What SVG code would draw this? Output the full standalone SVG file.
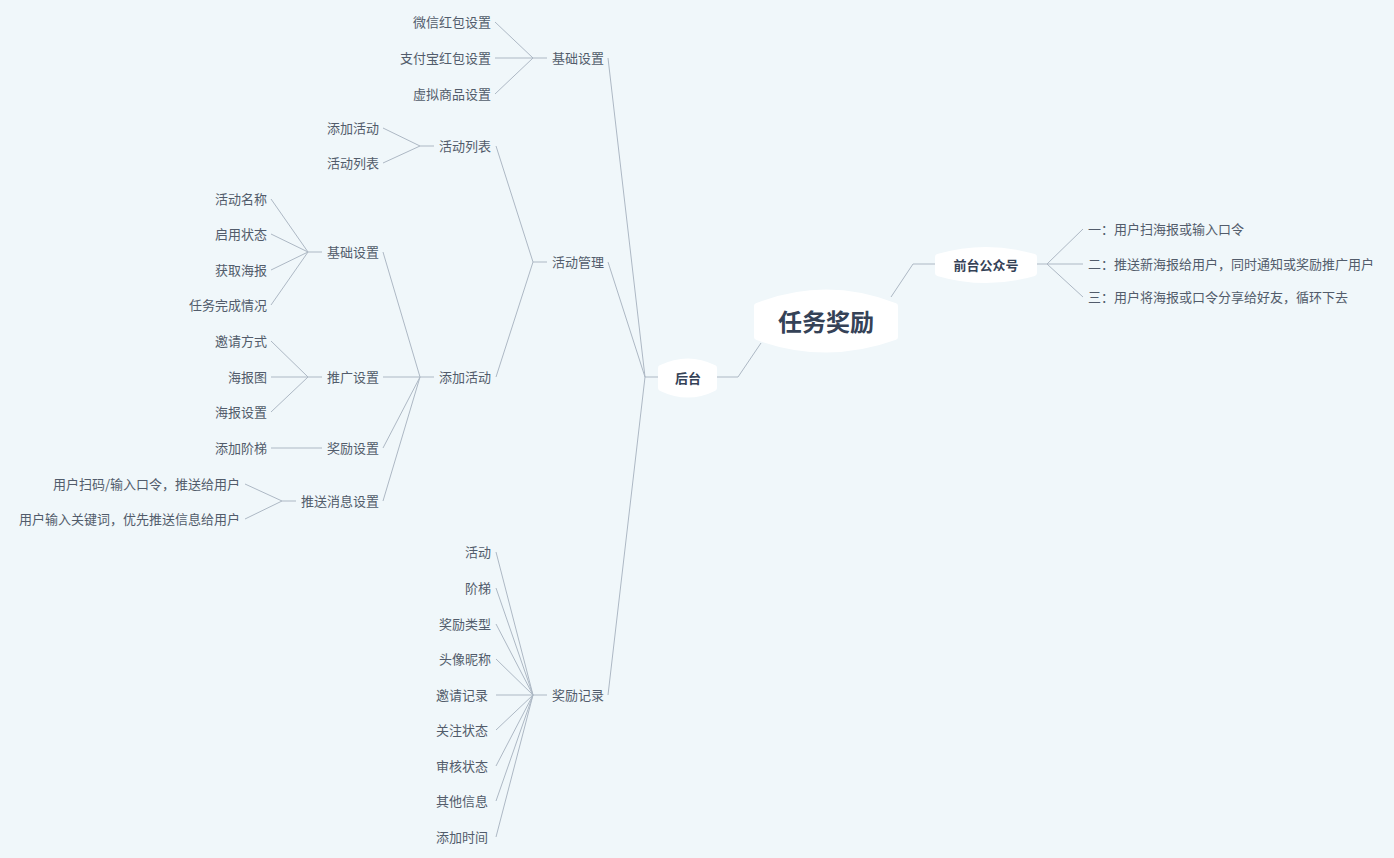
<svg xmlns="http://www.w3.org/2000/svg" width="1394" height="858" viewBox="0 0 1394 858">
<style>
text{font-family:"Noto Sans CJK SC","Noto Sans",sans-serif;dominant-baseline:central;}
.t{font-size:13px;fill:#525c6b;}
.r{text-anchor:end;}
.b{font-weight:bold;fill:#354257;text-anchor:middle;}
.box{fill:#ffffff;stroke:#ffffff;stroke-width:6;stroke-linejoin:round;}
.c path{fill:none;stroke:#adb8c4;stroke-width:1;}
.up{transform:translate(0px,-1px);}
</style>
<rect width="1394" height="858" fill="#f0f7fa"/>
<g class="c" id="connectors">
<path d="M717,377 H738 L761,343"/>
<path d="M935,264 H913 L891,297"/>
<path d="M658,377 H645 M645,377 L608,58 M645,377 L608,262 M645,377 L608,695"/>
<path d="M547,58 H533 M533,58 L495,22 M533,58 L495,58 M533,58 L495,94"/>
<path d="M547,262 H533 M533,262 L496,146 M533,262 L496,377"/>
<path d="M434,146 H420 M420,146 L383,128 M420,146 L383,163"/>
<path d="M434,377 H420 M420,377 L383,252 M420,377 L383,377 M420,377 L383,448 M420,377 L383,501"/>
<path d="M322,252 H308 M308,252 L271,199 M308,252 L271,234 M308,252 L271,270 M308,252 L271,305"/>
<path d="M322,377 H308 M308,377 L271,341 M308,377 L271,377 M308,377 L271,412"/>
<path d="M322,448 H271"/>
<path d="M296,501 H282 M282,501 L245,484 M282,501 L245,519"/>
<path d="M547,695 H533 M533,695 L496,552 M533,695 L496,588 M533,695 L496,624 M533,695 L496,659 M533,695 L496,695 M533,695 L496,730 M533,695 L496,766 M533,695 L496,801 M533,695 L496,837"/>
<path d="M1037,264 H1047 M1047,264 L1083,229 M1047,264 L1083,264 M1047,264 L1083,297"/>
</g>
<g id="root">
<path class="box" d="M757,306 Q826,279 895,306 L895,337 Q826,362 757,337 Z"/>
<text x="826" y="320" class="b" font-size="24">任务奖励</text>
</g>
<g id="houtai">
<path class="box" d="M661,368 Q688,355 714,368 L714,388 Q688,401 661,388 Z"/>
<text x="688" y="377" class="b" font-size="13">后台</text>
</g>
<g id="qiantai">
<path class="box" d="M938,257 Q986,243 1034,257 L1034,273 Q986,287 938,273 Z"/>
<text x="986" y="264" class="b" font-size="13">前台公众号</text>
</g>
<g id="qt-children" class="up">
<text x="1088" y="229" class="t">一：用户扫海报或输入口令</text>
<text x="1088" y="264" class="t">二：推送新海报给用户，同时通知或奖励推广用户</text>
<text x="1088" y="297" class="t">三：用户将海报或口令分享给好友，循环下去</text>
</g>
<g id="jichu-top" class="up">
<text x="604" y="58" class="t r">基础设置</text>
<text x="491" y="22" class="t r">微信红包设置</text>
<text x="491" y="58" class="t r">支付宝红包设置</text>
<text x="491" y="94" class="t r">虚拟商品设置</text>
</g>
<g id="huodong-guanli" class="up">
<text x="604" y="262" class="t r">活动管理</text>
</g>
<g id="huodong-liebiao" class="up">
<text x="491" y="146" class="t r">活动列表</text>
<text x="379" y="128" class="t r">添加活动</text>
<text x="379" y="163" class="t r">活动列表</text>
</g>
<g id="tianjia-huodong" class="up">
<text x="491" y="377" class="t r">添加活动</text>
</g>
<g id="jichu-mid" class="up">
<text x="379" y="252" class="t r">基础设置</text>
<text x="267" y="199" class="t r">活动名称</text>
<text x="267" y="234" class="t r">启用状态</text>
<text x="267" y="270" class="t r">获取海报</text>
<text x="267" y="305" class="t r">任务完成情况</text>
</g>
<g id="tuiguang" class="up">
<text x="379" y="377" class="t r">推广设置</text>
<text x="267" y="341" class="t r">邀请方式</text>
<text x="267" y="377" class="t r">海报图</text>
<text x="267" y="412" class="t r">海报设置</text>
</g>
<g id="jiangli-shezhi" class="up">
<text x="379" y="448" class="t r">奖励设置</text>
<text x="267" y="448" class="t r">添加阶梯</text>
</g>
<g id="tuisong" class="up">
<text x="379" y="501" class="t r">推送消息设置</text>
<text x="240" y="484" class="t r">用户扫码/输入口令，推送给用户</text>
<text x="240" y="519" class="t r">用户输入关键词，优先推送信息给用户</text>
</g>
<g id="jiangli-jilu" class="up">
<text x="604" y="695" class="t r">奖励记录</text>
<text x="491" y="552" class="t r">活动</text>
<text x="491" y="588" class="t r">阶梯</text>
<text x="491" y="624" class="t r">奖励类型</text>
<text x="491" y="659" class="t r">头像昵称</text>
<text x="488" y="695" class="t r">邀请记录</text>
<text x="488" y="730" class="t r">关注状态</text>
<text x="488" y="766" class="t r">审核状态</text>
<text x="488" y="801" class="t r">其他信息</text>
<text x="488" y="837" class="t r">添加时间</text>
</g>
</svg>
